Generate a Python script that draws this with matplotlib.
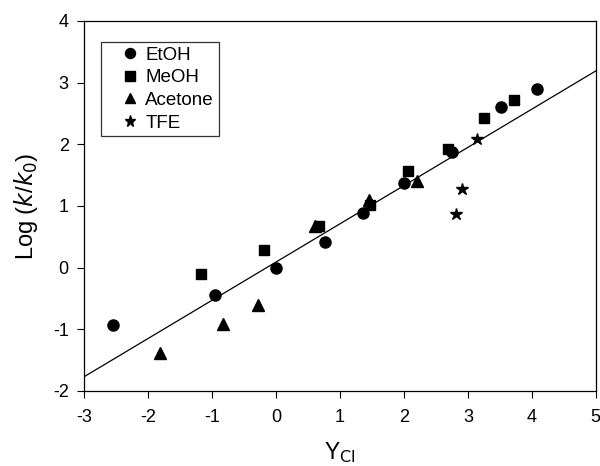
import numpy as np
import matplotlib
matplotlib.use("Agg")
import matplotlib.pyplot as plt

plt.rcParams['font.family'] = ['Liberation Sans', 'DejaVu Sans']
plt.rcParams['axes.unicode_minus'] = False

# données
etoh_x = [-2.54, -0.95, 0.0, 0.77, 1.36, 2.0, 2.75, 3.52, 4.08]
etoh_y = [-0.93, -0.44, 0.0, 0.42, 0.88, 1.37, 1.88, 2.60, 2.90]
meoh_x = [-1.17, -0.18, 0.68, 1.47, 2.07, 2.69, 3.25, 3.72]
meoh_y = [-0.10, 0.29, 0.68, 1.02, 1.56, 1.92, 2.42, 2.72]
acet_x = [-1.81, -0.82, -0.28, 0.61, 1.46, 2.21]
acet_y = [-1.38, -0.91, -0.61, 0.68, 1.10, 1.40]
tfe_x = [3.15, 2.91, 2.82]
tfe_y = [2.08, 1.28, 0.87]

# droite de régression
pente = 0.62
ordonnee = 0.09
x_fit = np.array([-3, 5])

fig = plt.figure(figsize=(6, 4.66), dpi=100)
ax = fig.add_axes([0.14, 0.161, 0.853, 0.794])

ax.plot(x_fit, pente * x_fit + ordonnee, color="black", lw=0.9)
ax.plot(etoh_x, etoh_y, "o", color="black", ms=8, label="EtOH")
ax.plot(meoh_x, meoh_y, "s", color="black", ms=7.5, label="MeOH")
ax.plot(acet_x, acet_y, "^", color="black", ms=8.5, label="Acetone")
ax.plot(tfe_x, tfe_y, "*", color="black", ms=9, label="TFE")

ax.set_xlim(-3, 5)
ax.set_ylim(-2, 4)
ax.set_xticks(range(-3, 6))
ax.set_yticks(range(-2, 5))
ax.tick_params(direction="out", length=5, labelsize=13, top=False, right=False)
ax.tick_params(axis="x", pad=8)
ax.tick_params(axis="y", pad=6)
for s in ax.spines.values():
    s.set_linewidth(0.9)

ax.set_xlabel("Y$_{\\mathrm{Cl}}$", fontsize=16.5, labelpad=10)
ax.set_ylabel("Log ($k$/$k_0$)", fontsize=17, labelpad=9)

leg = ax.legend(loc="upper left", bbox_to_anchor=(0.034, 0.944), fontsize=13.5,
                frameon=True, fancybox=False, edgecolor="black",
                handletextpad=-0.5, labelspacing=0.3, handlelength=2.6,
                borderpad=0.25, borderaxespad=0, markerscale=0.9)
leg.get_frame().set_linewidth(0.9)

plt.savefig("out.png", dpi=100)
